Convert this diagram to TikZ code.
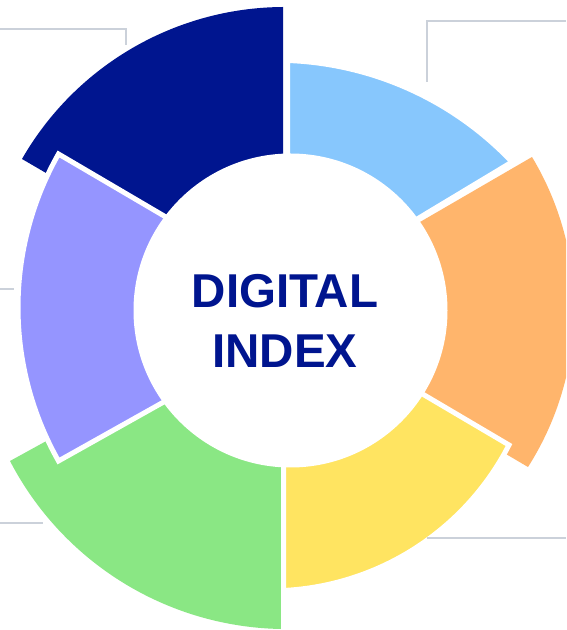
\documentclass[tikz,border=0pt]{standalone}
\usepackage{fontspec}
\setmainfont{Liberation Sans}
\definecolor{navyseg}{HTML}{00158F}
\definecolor{lbseg}{HTML}{87C7FD}
\definecolor{orseg}{HTML}{FFB56C}
\definecolor{yeseg}{HTML}{FFE461}
\definecolor{grseg}{HTML}{8AE784}
\definecolor{puseg}{HTML}{9595FF}
\definecolor{leadgray}{HTML}{CBD1DA}
% sector: #1 style, #2#3 first arc end, #4#5 point on arc, #6#7 second arc end (screen px, y down), #8 apex
\newcommand\SKsector[8]{%
  \pgfmathsetmacro\SKxa{#2/100}\pgfmathsetmacro\SKya{(630-#3)/100}%
  \pgfmathsetmacro\SKxb{#4/100}\pgfmathsetmacro\SKyb{(630-#5)/100}%
  \pgfmathsetmacro\SKxc{#6/100}\pgfmathsetmacro\SKyc{(630-#7)/100}%
  \pgfmathsetmacro\SKd{2*(\SKxa*(\SKyb-\SKyc)+\SKxb*(\SKyc-\SKya)+\SKxc*(\SKya-\SKyb))}%
  \pgfmathsetmacro\SKux{((\SKxa*\SKxa+\SKya*\SKya)*(\SKyb-\SKyc)+(\SKxb*\SKxb+\SKyb*\SKyb)*(\SKyc-\SKya)+(\SKxc*\SKxc+\SKyc*\SKyc)*(\SKya-\SKyb))/\SKd}%
  \pgfmathsetmacro\SKuy{((\SKxa*\SKxa+\SKya*\SKya)*(\SKxc-\SKxb)+(\SKxb*\SKxb+\SKyb*\SKyb)*(\SKxa-\SKxc)+(\SKxc*\SKxc+\SKyc*\SKyc)*(\SKxb-\SKxa))/\SKd}%
  \pgfmathsetmacro\SKr{100*veclen(\SKxa-\SKux,\SKya-\SKuy)}%
  \pgfmathsetmacro\SKs{atan2(\SKya-\SKuy,\SKxa-\SKux)}%
  \pgfmathsetmacro\SKe{atan2(\SKyc-\SKuy,\SKxc-\SKux)}%
  \pgfmathsetmacro\SKe{\SKe<\SKs ? \SKe+360 : \SKe}%
  \path[#1] (#8) -- (#2,630-#3) arc[start angle=\SKs, end angle=\SKe, radius=\SKr pt] -- cycle;%
}
\begin{document}
\begin{tikzpicture}[x=1pt,y=1pt,
  bigseg/.style={draw=none},
  smallseg/.style={draw=white, line width=5pt, line join=miter},
  leader/.style={draw=leadgray, line width=2pt},
  title/.style={font=\fontsize{47.5}{57}\selectfont\bfseries, text=navyseg, inner sep=0pt, anchor=base}]
\useasboundingbox (0,0) rectangle (566,630);
\clip (0,0) rectangle (566,630);
\fill[white] (0,0) rectangle (566,630);
% apexes
\coordinate (navyc) at (283,630-311);
\coordinate (orc) at (265,630-312);
\coordinate (grc) at (281,630-312);
\coordinate (lbc) at (287.5,630-297);
\coordinate (yec) at (283.5,630-312);
\coordinate (puc) at (326,630-311);
\coordinate (hub) at (290.5,630-310.5);
% large segments
\SKsector{bigseg, fill=navyseg}{283}{7}{133}{47.7}{22}{159}{navyc}
\SKsector{bigseg, fill=orseg}{528}{467}{566}{240}{532}{157}{orc}
\SKsector{bigseg, fill=grseg}{10}{461}{100}{567}{281}{629}{grc}
% small segments with white border
\SKsector{smallseg, fill=lbseg}{512}{162}{400}{85}{287.5}{60.5}{lbc}
\SKsector{smallseg, fill=yeseg}{283.5}{590.5}{428}{539.5}{509}{445}{yec}
\SKsector{smallseg, fill=puseg}{58.5}{154}{18}{307.5}{58.5}{461}{puc}
% centre disc
\fill[white] (hub) circle[radius=157pt];
\node[title] (t1) at (285,630-308) {DIGITAL};
\node[title] (t2) at (285,630-368) {INDEX};
% leader lines
\coordinate (tla) at (0,630-29);
\coordinate (tlb) at (126,630-29);
\coordinate (tlc) at (126,630-45);
\coordinate (tra) at (427,630-82);
\coordinate (trb) at (427,630-21);
\coordinate (trc) at (566,630-21);
\coordinate (lma) at (0,630-289);
\coordinate (lmb) at (14,630-289);
\coordinate (bla) at (0,630-523);
\coordinate (blb) at (43,630-523);
\coordinate (bra) at (427,630-538);
\coordinate (brb) at (566,630-538);
\draw[leader] (tla) -- (tlb) -- (tlc);
\draw[leader] (tra) -- (trb) -- (trc);
\draw[leader] (lma) -- (lmb);
\draw[leader] (bla) -- (blb);
\draw[leader] (bra) -- (brb);
\end{tikzpicture}
\end{document}
